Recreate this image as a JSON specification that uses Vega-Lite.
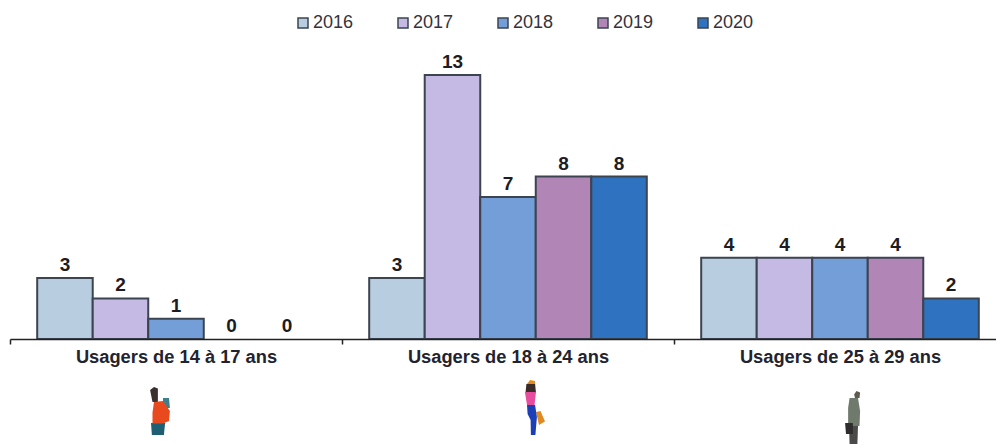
{
"$schema":"https://vega.github.io/schema/vega-lite/v6.json",
"width":986,"height":339,"autosize":{"type":"none"},
"padding":{"left":10,"top":0,"right":0,"bottom":105},
"background":"white",
"config":{"view":{"stroke":null},"font":"Liberation Sans"},
"datasets":{"d":[
{"group":"Usagers de 14 à 17 ans","year":"2016","value":3},{"group":"Usagers de 14 à 17 ans","year":"2017","value":2},{"group":"Usagers de 14 à 17 ans","year":"2018","value":1},{"group":"Usagers de 14 à 17 ans","year":"2019","value":0},{"group":"Usagers de 14 à 17 ans","year":"2020","value":0},
{"group":"Usagers de 18 à 24 ans","year":"2016","value":3},{"group":"Usagers de 18 à 24 ans","year":"2017","value":13},{"group":"Usagers de 18 à 24 ans","year":"2018","value":7},{"group":"Usagers de 18 à 24 ans","year":"2019","value":8},{"group":"Usagers de 18 à 24 ans","year":"2020","value":8},
{"group":"Usagers de 25 à 29 ans","year":"2016","value":4},{"group":"Usagers de 25 à 29 ans","year":"2017","value":4},{"group":"Usagers de 25 à 29 ans","year":"2018","value":4},{"group":"Usagers de 25 à 29 ans","year":"2019","value":4},{"group":"Usagers de 25 à 29 ans","year":"2020","value":2}
],"f1":[{"group":"Usagers de 14 à 17 ans","value":0}],"f2":[{"group":"Usagers de 18 à 24 ans","value":0}],"f3":[{"group":"Usagers de 25 à 29 ans","value":0}]},
"encoding":{
"x":{"field":"group","type":"nominal","scale":{"range":[0,996],"paddingInner":0,"paddingOuter":0},"axis":{"title":null,"labelAngle":0,"labelFont":"Liberation Sans","labelFontWeight":"bold","labelFontSize":18.3,"labelLimit":400,"labelColor":"#23232f","labelPadding":4,"tickBand":"extent","tickSize":5,"tickColor":"#222","tickWidth":1.5,"domainColor":"#222","domainWidth":1.5,"grid":false,"zindex":1}},
"y":{"field":"value","type":"quantitative","scale":{"domain":[0,16.7],"nice":false,"zero":true},"axis":null}
},
"layer":[
{"data":{"name":"d"},"transform":[{"filter":"datum.value > 0"}],"mark":{"type":"bar","stroke":"#3c4450","strokeWidth":2,"opacity":1},
"encoding":{"xOffset":{"field":"year","type":"nominal","scale":{"domain":["2016","2017","2018","2019","2020"],"paddingInner":0,"paddingOuter":0.49}},"color":{"field":"year","type":"nominal","scale":{"domain":["2016","2017","2018","2019","2020"],"range":["#B9CDE0","#C5BAE3","#739ED8","#B186B6","#2E72C0"]},
"legend":{"title":null,"orient":"none","legendX":284,"legendY":14,"direction":"horizontal","columns":5,"symbolType":"square","symbolSize":100,"symbolStrokeColor":"#3c4450","symbolStrokeWidth":1.5,"symbolOpacity":1,"labelFont":"Liberation Sans","labelFontSize":18,"labelColor":"#33333d","labelOffset":1,"columnPadding":40}}}},
{"data":{"name":"d"},"mark":{"type":"text","fontWeight":"bold","fontSize":19,"color":"#1c1c22","baseline":"bottom","dy":-3,"font":"Liberation Sans"},"encoding":{"xOffset":{"field":"year","type":"nominal","scale":{"domain":["2016","2017","2018","2019","2020"],"paddingInner":0,"paddingOuter":0.49}},"text":{"field":"value","type":"quantitative"}}},

{"data":{"name":"f1"},"mark":{"type":"point","filled":true,"size":3600,"opacity":1,"strokeWidth":0,"color":"#3a3030","xOffset":-16,"yOffset":72,"shape":"M -0.33 -0.7 L -0.2 -0.8 L -0.07 -0.75 L -0.07 -0.3 L -0.25 -0.3 Z"}},
{"data":{"name":"f1"},"mark":{"type":"point","filled":true,"size":3600,"opacity":1,"strokeWidth":0,"color":"#3d7f8a","xOffset":-16,"yOffset":72,"shape":"M 0.1 -0.43 L 0.3 -0.43 L 0.33 -0.1 L 0.1 -0.1 Z"}},
{"data":{"name":"f1"},"mark":{"type":"point","filled":true,"size":3600,"opacity":1,"strokeWidth":0,"color":"#1f5f73","xOffset":-16,"yOffset":72,"shape":"M -0.3 0.4 L 0.17 0.4 L 0.13 0.8 L -0.27 0.8 Z"}},
{"data":{"name":"f1"},"mark":{"type":"point","filled":true,"size":3600,"opacity":1,"strokeWidth":0,"color":"#e8491d","xOffset":-16,"yOffset":72,"shape":"M -0.2 -0.3 L 0.1 -0.33 L 0.33 0 L 0.3 0.33 L 0.1 0.42 L -0.25 0.42 L -0.25 0.05 Z"}},

{"data":{"name":"f2"},"mark":{"type":"point","filled":true,"size":3600,"opacity":1,"strokeWidth":0,"color":"#e08a20","xOffset":22,"yOffset":69,"shape":"M -0.1 -0.8 L 0 -0.93 L 0.17 -0.9 L 0.17 -0.77 Z M 0.2 0.13 L 0.35 0.1 L 0.5 0.45 L 0.3 0.57 Z"}},
{"data":{"name":"f2"},"mark":{"type":"point","filled":true,"size":3600,"opacity":1,"strokeWidth":0,"color":"#3a2a28","xOffset":22,"yOffset":69,"shape":"M -0.12 -0.8 L 0.17 -0.8 L 0.2 -0.5 L -0.15 -0.5 Z"}},
{"data":{"name":"f2"},"mark":{"type":"point","filled":true,"size":3600,"opacity":1,"strokeWidth":0,"color":"#e64d9f","xOffset":22,"yOffset":69,"shape":"M -0.17 -0.53 L 0.2 -0.53 L 0.15 -0.1 L -0.1 -0.1 Z"}},
{"data":{"name":"f2"},"mark":{"type":"point","filled":true,"size":3600,"opacity":1,"strokeWidth":0,"color":"#1c3fb8","xOffset":22,"yOffset":69,"shape":"M -0.1 -0.1 L 0.17 -0.1 L 0.23 0.3 L 0.18 0.9 L 0.03 0.9 L 0.02 0.4 L -0.08 0.2 Z"}},

{"data":{"name":"f3"},"mark":{"type":"point","filled":true,"size":3600,"opacity":1,"strokeWidth":0,"color":"#5f5a50","xOffset":12,"yOffset":78,"shape":"M 0.07 -0.75 L 0.15 -0.87 L 0.27 -0.82 L 0.25 -0.63 L 0.1 -0.63 Z"}},
{"data":{"name":"f3"},"mark":{"type":"point","filled":true,"size":3600,"opacity":1,"strokeWidth":0,"color":"#6f7a6c","xOffset":12,"yOffset":78,"shape":"M -0.08 -0.63 L 0.2 -0.63 L 0.27 -0.2 L 0.25 0.3 L -0.13 0.3 L -0.13 -0.3 Z"}},
{"data":{"name":"f3"},"mark":{"type":"point","filled":true,"size":3600,"opacity":1,"strokeWidth":0,"color":"#4a4a48","xOffset":12,"yOffset":78,"shape":"M -0.1 0.3 L 0.2 0.3 L 0.18 0.9 L -0.08 0.9 Z"}},
{"data":{"name":"f3"},"mark":{"type":"point","filled":true,"size":3600,"opacity":1,"strokeWidth":0,"color":"#2e2c2c","xOffset":12,"yOffset":78,"shape":"M -0.23 0.2 L 0.03 0.2 L 0.03 0.57 L -0.2 0.57 Z"}}
]
}
